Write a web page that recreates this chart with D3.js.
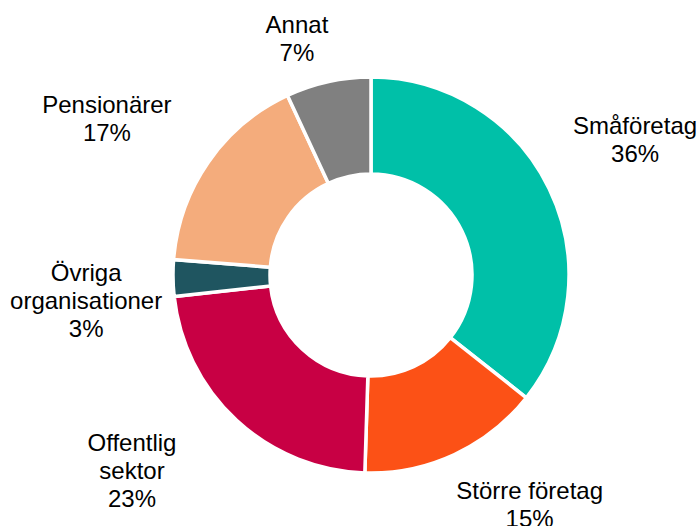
<!DOCTYPE html>
<html>
<head>
<meta charset="utf-8">
<script src="https://cdn.jsdelivr.net/npm/d3@7"></script>
<style>
  body { margin: 0; background: #fff; }
  text { font-family: "Liberation Sans", Arial, sans-serif; fill: #000; }
</style>
</head>
<body>
<div id="chart"></div>
<script>
// data
var categories = ["Småföretag", "Större företag", "Offentlig sektor", "Övriga organisationer", "Pensionärer", "Annat"];
var shares = [36, 15, 23, 3, 17, 7];
var labelLines = [["Småföretag"], ["Större företag"], ["Offentlig", "sektor"], ["Övriga", "organisationer"], ["Pensionärer"], ["Annat"]];
var colors = ["#00C0A8", "#FC5116", "#C80044", "#1F5560", "#F4AC7C", "#808080"];

// label placement: angle shift (deg) from slice middle, distance from centre
var labelShift = [-1.4, -9.7, 7.9, -4.2, -4.1, -4.9];
var labelDist = [297, 279, 309, 286, 307, 248];

var width = 699, height = 526;
var cx = 371, cy = 275;
var outerR = 198, innerR = 101;
var lineH = 28;

var svg = d3.select("#chart").append("svg")
    .attr("width", width)
    .attr("height", height);

var g = svg.append("g")
    .attr("transform", "translate(" + cx + "," + cy + ")");

var pie = d3.pie()
    .value(function(d){ return d; })
    .sort(null);

var arc = d3.arc()
    .innerRadius(innerR)
    .outerRadius(outerR);

var arcs = pie(shares);

g.selectAll("path.slice")
    .data(arcs)
    .enter().append("path")
    .attr("class", "slice")
    .attr("d", arc)
    .attr("fill", function(d, i){ return colors[i]; })
    .attr("stroke", "#fff")
    .attr("stroke-width", 3.5)
    .attr("stroke-linejoin", "miter");

var labels = g.selectAll("text.lbl")
    .data(arcs)
    .enter().append("text")
    .attr("class", "lbl")
    .attr("text-anchor", "middle")
    .style("font-size", "24px")
    .each(function(d, i){
        var mid = (d.startAngle + d.endAngle) / 2 + labelShift[i] * Math.PI / 180;
        var x = Math.sin(mid) * labelDist[i];
        var y = -Math.cos(mid) * labelDist[i];
        var lines = labelLines[i].concat([shares[i] + "%"]);
        var first = y - (lines.length - 1) * lineH / 2 + 8.5;
        var t = d3.select(this);
        lines.forEach(function(s, k){
            t.append("tspan")
                .attr("x", x)
                .attr("y", first + k * lineH)
                .text(s);
        });
    });
</script>
</body>
</html>
